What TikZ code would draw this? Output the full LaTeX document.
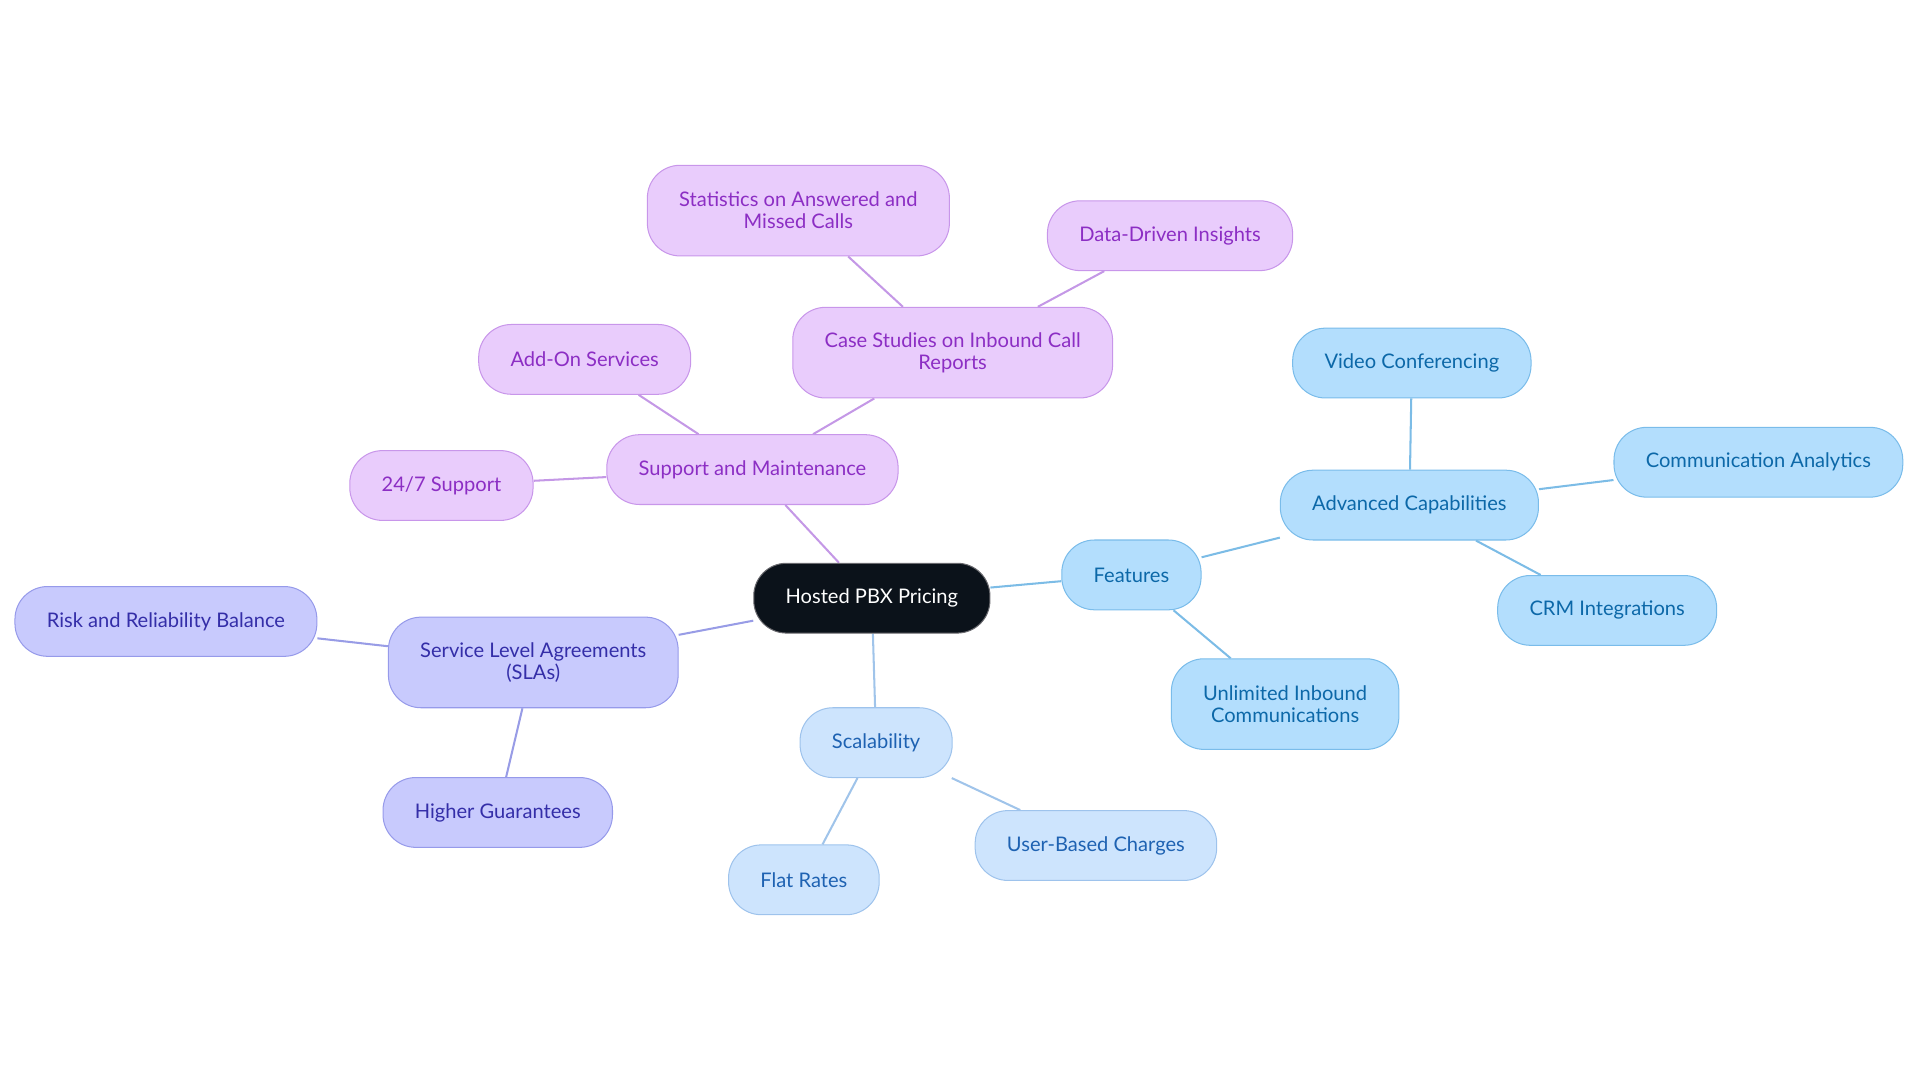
\documentclass[tikz,border=0pt]{standalone}
\usepackage{fontspec}
\setmainfont{Lato}
\usetikzlibrary{backgrounds}
\definecolor{coreFill}{RGB}{11,18,26}
\definecolor{coreDraw}{RGB}{105,105,110}
\definecolor{pFill}{RGB}{233,204,252}
\definecolor{pDraw}{RGB}{200,150,234}
\definecolor{pText}{RGB}{140,46,196}
\definecolor{pLine}{RGB}{196,152,230}
\definecolor{bFill}{RGB}{179,222,253}
\definecolor{bDraw}{RGB}{122,188,234}
\definecolor{bText}{RGB}{12,104,168}
\definecolor{bLine}{RGB}{124,188,230}
\definecolor{sFill}{RGB}{205,228,253}
\definecolor{sDraw}{RGB}{158,195,236}
\definecolor{sText}{RGB}{30,98,178}
\definecolor{sLine}{RGB}{160,196,234}
\definecolor{lFill}{RGB}{200,202,253}
\definecolor{lDraw}{RGB}{150,154,234}
\definecolor{lText}{RGB}{52,46,168}
\definecolor{lLine}{RGB}{152,156,230}
\tikzset{
  tag/.style={draw,line width=0.5pt,rounded corners=16pt,minimum height=34.2pt,inner xsep=15.6pt,
              align=center,font=\fontsize{9.85}{10.8}\selectfont},
  core/.style={tag,fill=coreFill,draw=coreDraw,text=white},
  pnode/.style={tag,fill=pFill,draw=pDraw,text=pText},
  bnode/.style={tag,fill=bFill,draw=bDraw,text=bText},
  snode/.style={tag,fill=sFill,draw=sDraw,text=sText},
  lnode/.style={tag,fill=lFill,draw=lDraw,text=lText},
  twoline/.style={minimum height=44.4pt},
  pline/.style={draw=pLine,line width=1pt},
  bline/.style={draw=bLine,line width=1pt},
  sline/.style={draw=sLine,line width=1pt},
  lline/.style={draw=lLine,line width=1pt},
}
\begin{document}
\begin{tikzpicture}[x=0.6pt,y=-0.6pt]
  \useasboundingbox (0,0) rectangle (1568,884);
  \node[core] (hub) at (712,488.5) {Hosted PBX Pricing};
  % support branch
  \node[pnode] (sup) at (614.5,383.5) {Support and Maintenance};
  \node[pnode] (allday) at (360.5,396.5) {24/7 Support};
  \node[pnode] (addon) at (477.5,293.5) {Add-On Services};
  \node[pnode,twoline] (cases) at (778,288) {Case Studies on Inbound Call\\Reports};
  \node[pnode,twoline] (stats) at (652,172) {Statistics on Answered and\\Missed Calls};
  \node[pnode] (insight) at (955.5,192.5) {Data-Driven Insights};
  % features branch
  \node[bnode] (feat) at (924,469.5) {Features};
  \node[bnode] (adv) at (1151,412.5) {Advanced Capabilities};
  \node[bnode] (video) at (1153,296.5) {Video Conferencing};
  \node[bnode] (analytics) at (1436,377.5) {Communication Analytics};
  \node[bnode] (crm) at (1312.5,498.5) {CRM Integrations};
  \node[bnode,twoline] (inbound) at (1049.5,575) {Unlimited Inbound\\Communications};
  % scalability branch
  \node[snode] (scale) at (715.5,606.5) {Scalability};
  \node[snode] (flat) at (656.5,718.5) {Flat Rates};
  \node[snode] (peruser) at (895,690.5) {User-Based Charges};
  % sla branch
  \node[lnode,twoline] (sla) at (435.5,541) {Service Level Agreements\\(SLAs)};
  \node[lnode] (risk) at (135.5,507.5) {Risk and Reliability Balance};
  \node[lnode] (higher) at (406.5,663.5) {Higher Guarantees};
  \begin{scope}[on background layer]
    \draw[pline] (hub) -- (sup); \draw[pline] (sup) -- (allday); \draw[pline] (sup) -- (addon);
    \draw[pline] (sup) -- (cases); \draw[pline] (cases) -- (stats); \draw[pline] (cases) -- (insight);
    \draw[bline] (hub) -- (feat); \draw[bline] (feat) -- (adv); \draw[bline] (feat) -- (inbound);
    \draw[bline] (adv) -- (video); \draw[bline] (adv) -- (analytics); \draw[bline] (adv) -- (crm);
    \draw[sline] (hub) -- (scale); \draw[sline] (scale) -- (flat); \draw[sline] (scale) -- (peruser);
    \draw[lline] (hub) -- (sla); \draw[lline] (sla) -- (risk); \draw[lline] (sla) -- (higher);
  \end{scope}
\end{tikzpicture}
\end{document}
